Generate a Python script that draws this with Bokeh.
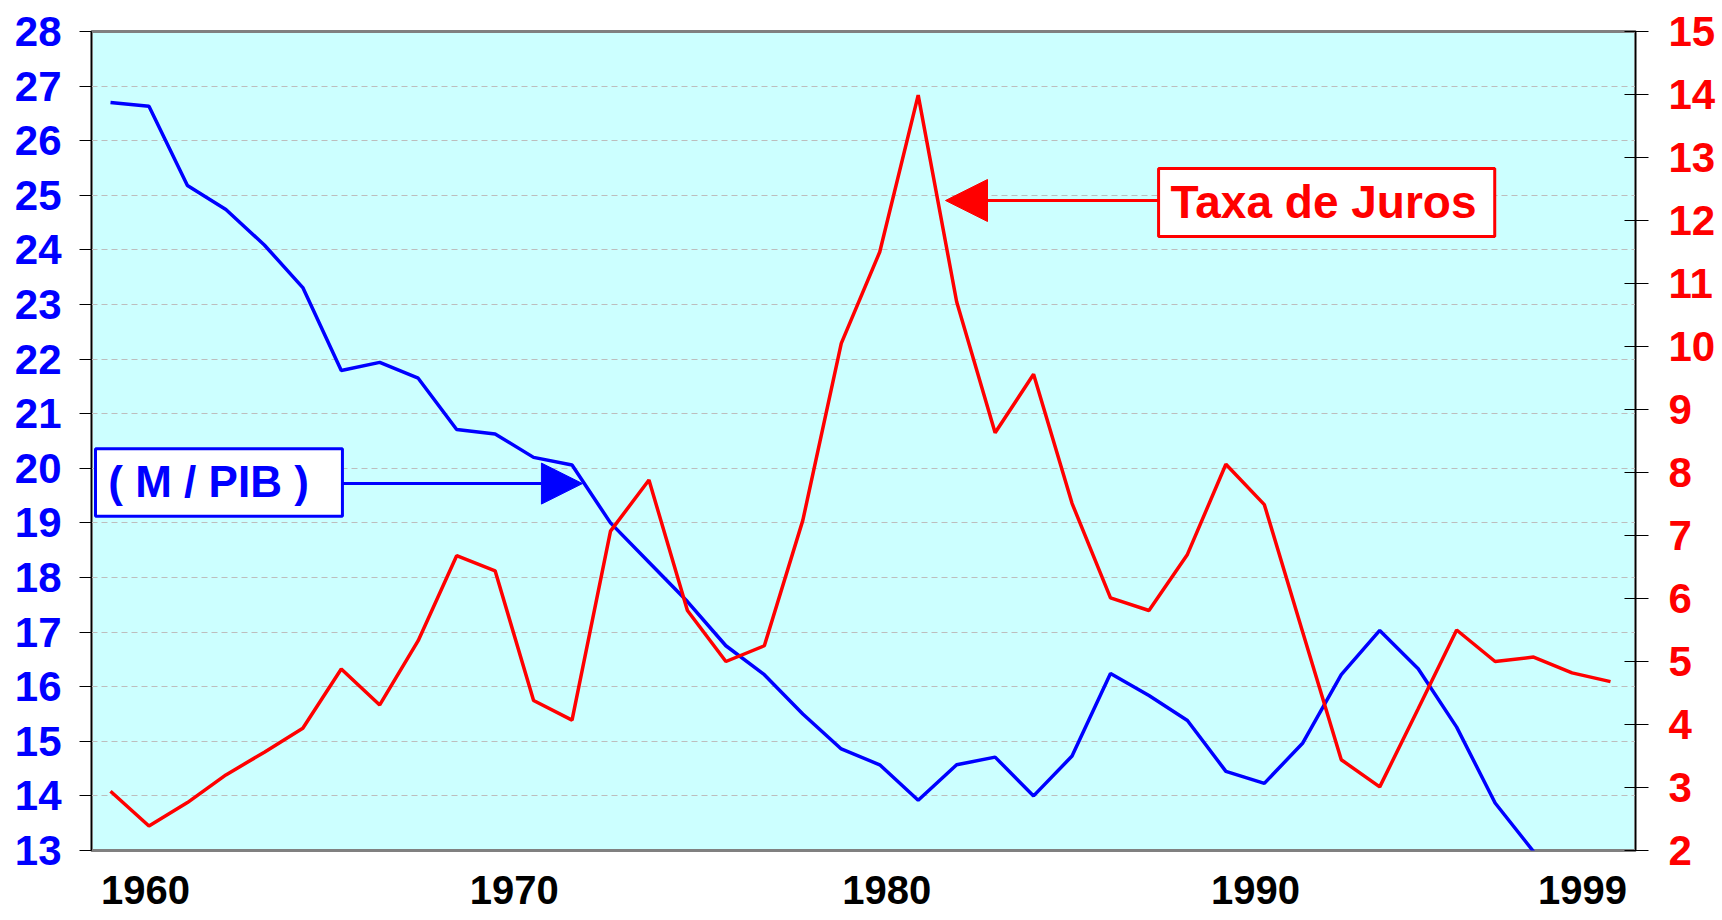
import math
from bokeh.plotting import figure
from bokeh.models import (Range1d, LinearAxis, FixedTicker, ColumnDataSource,
                          BoxAnnotation, Label, Arrow, NormalHead)
from bokeh.embed import file_html
from bokeh.resources import INLINE

# ---------------- data ----------------
years = list(range(1960, 2000))
m_pib = [26.70, 26.63, 25.18, 24.74, 24.09, 23.31, 21.79, 21.94, 21.65, 20.71,
         20.63, 20.20, 20.06, 19.00, 18.28, 17.56, 16.75, 16.22, 15.50, 14.86,
         14.57, 13.92, 14.57, 14.71, 14.00, 14.73, 16.24, 15.84, 15.38, 14.45,
         14.23, 14.97, 16.22, 17.03, 16.33, 15.26, 13.87, 12.98]
taxa_juros = [2.94, 2.39, 2.76, 3.20, 3.56, 3.94, 4.88, 4.31, 5.33, 6.68,
              6.44, 4.38, 4.07, 7.07, 7.88, 5.81, 5.00, 5.25, 7.24, 10.05,
              11.50, 13.99, 10.71, 8.63, 9.56, 7.51, 6.01, 5.81, 6.70, 8.13,
              7.49, 5.46, 3.44, 3.01, 4.25, 5.50, 5.00, 5.07, 4.82, 4.68]
x_tick_labels = ["1960", "1970", "1980", "1990", "1999"]
left_ticks = list(range(13, 29))
right_ticks = list(range(2, 16))
label_mpib = "( M / PIB )"
label_juros = "Taxa de Juros"

# ---------------- layout constants ----------------
x_tick_pos = [1960.91, 1970.50, 1980.18, 1989.77, 1998.27]
FONT = "Liberation Sans"
BLUE = "#0000FF"
RED = "#FF0000"

src_m = ColumnDataSource(dict(x=years[:len(m_pib)], y=m_pib))
src_t = ColumnDataSource(dict(x=years, y=taxa_juros))

p = figure(width=1722, height=920, output_backend="svg", toolbar_location=None,
           x_range=Range1d(1959.506, 1999.65), y_range=Range1d(13, 28),
           min_border_left=91, min_border_right=87, min_border_top=31,
           min_border_bottom=70)
p.extra_y_ranges = {"juros": Range1d(2, 15)}

p.background_fill_color = "#CCFFFF"
p.border_fill_color = "white"
p.outline_line_color = "#808080"
p.outline_line_width = 3

# left axis
ya = p.yaxis[0]
ya.ticker = FixedTicker(ticks=left_ticks)
ya.major_label_text_color = BLUE
ya.major_label_text_font = FONT
ya.major_label_text_font_style = "bold"
ya.major_label_text_font_size = "42px"
ya.major_tick_in = 0
ya.major_tick_out = 12
ya.minor_tick_line_color = None
ya.major_label_standoff = 18
ya.axis_line_color = "#000000"
ya.major_tick_line_color = "#000000"

# right axis
ra = LinearAxis(y_range_name="juros", ticker=FixedTicker(ticks=right_ticks))
ra.major_label_text_color = RED
ra.major_label_text_font = FONT
ra.major_label_text_font_style = "bold"
ra.major_label_text_font_size = "42px"
ra.major_tick_in = 11
ra.major_tick_out = 13
ra.minor_tick_line_color = None
ra.major_label_standoff = 20
ra.axis_line_color = "#000000"
ra.major_tick_line_color = "#000000"
p.add_layout(ra, "right")

# bottom axis
xa = p.xaxis[0]
xa.ticker = FixedTicker(ticks=x_tick_pos)
xa.major_label_overrides = {pos: lab for pos, lab in zip(x_tick_pos, x_tick_labels)}
xa.major_label_text_color = "#000000"
xa.major_label_text_font = FONT
xa.major_label_text_font_style = "bold"
xa.major_label_text_font_size = "40px"
xa.major_tick_in = 0
xa.major_tick_out = 0
xa.minor_tick_line_color = None
xa.major_tick_line_color = None
xa.axis_line_color = None
xa.major_label_standoff = 25

# grid
p.xgrid.grid_line_color = None
p.ygrid.grid_line_color = "#BDBDBD"
p.ygrid.grid_line_dash = "6 4"
p.ygrid.grid_line_width = 1

# series
p.line("x", "y", source=src_m, line_color=BLUE, line_width=3.5)
p.line("x", "y", source=src_t, line_color=RED, line_width=3.5, y_range_name="juros")

# annotation: M / PIB
p.add_layout(BoxAnnotation(left=1959.61, right=1966.03, bottom=19.12, top=20.36,
                           fill_color="white", fill_alpha=1.0,
                           line_color=BLUE, line_alpha=1.0, line_width=3))
p.add_layout(Arrow(end=NormalHead(size=41, fill_color=BLUE, line_color=BLUE, line_width=1),
                   x_start=1966.03, y_start=19.72, x_end=1972.27, y_end=19.72,
                   line_color=BLUE, line_width=3))
p.add_layout(Label(x=1962.55, y=19.76, text=label_mpib, text_align="center",
                   text_baseline="middle", text_font=FONT, text_font_style="bold",
                   text_font_size="44px", text_color=BLUE))

# annotation: Taxa de Juros
p.add_layout(BoxAnnotation(left=1987.25, right=1995.99, bottom=24.245, top=25.49,
                           fill_color="white", fill_alpha=1.0,
                           line_color=RED, line_alpha=1.0, line_width=3))
p.add_layout(Arrow(end=NormalHead(size=42, fill_color=RED, line_color=RED, line_width=1),
                   x_start=1987.25, y_start=24.905, x_end=1981.71, y_end=24.905,
                   line_color=RED, line_width=3))
p.add_layout(Label(x=1991.54, y=24.87, text=label_juros, text_align="center",
                   text_baseline="middle", text_font=FONT, text_font_style="bold",
                   text_font_size="46px", text_color=RED))

open("out.html", "w").write(file_html(p, INLINE))
